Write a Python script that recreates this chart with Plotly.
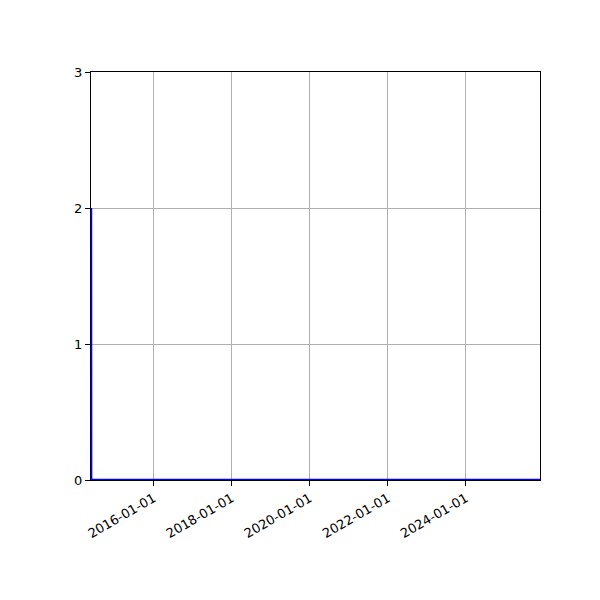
import plotly.graph_objects as go

# series: a single spike at the start, then flat zero
dates = ["2014-05-25", "2014-05-26", "2025-11-24"]
values = [2, 0, 0]

x_ticks = ["2016-01-01", "2018-01-01", "2020-01-01", "2022-01-01", "2024-01-01"]
y_ticks = [0, 1, 2, 3]

fig = go.Figure()

fig.add_trace(go.Scatter(
    x=dates,
    y=values,
    mode="lines",
    line=dict(color="#0000ff", width=2.5),
    showlegend=False,
    hoverinfo="skip",
))

# page has an 8px body margin, so margins are shifted to put the axes at 90..540 / 72..480
fig.update_layout(
    width=600,
    height=600,
    margin=dict(l=83, r=68, t=64, b=128),
    paper_bgcolor="white",
    plot_bgcolor="white",
    font=dict(family="DejaVu Sans", size=13, color="black"),
    showlegend=False,
)

fig.update_xaxes(
    type="date",
    range=[dates[0], dates[-1]],
    tickmode="array",
    tickvals=x_ticks,
    ticktext=x_ticks,
    tickangle=-30,
    ticks="outside",
    ticklen=5,
    tickcolor="black",
    showgrid=True,
    gridcolor="#b0b0b0",
    gridwidth=1,
    showline=True,
    linecolor="black",
    linewidth=1,
    mirror=True,
    zeroline=False,
    layer="above traces",
)

fig.update_yaxes(
    range=[0, 3],
    tickmode="array",
    tickvals=y_ticks,
    ticks="outside",
    ticklen=5,
    tickcolor="black",
    showgrid=True,
    gridcolor="#b0b0b0",
    gridwidth=1,
    showline=True,
    linecolor="black",
    linewidth=1,
    mirror=True,
    zeroline=False,
    layer="above traces",
)

fig.write_html("out.html")
